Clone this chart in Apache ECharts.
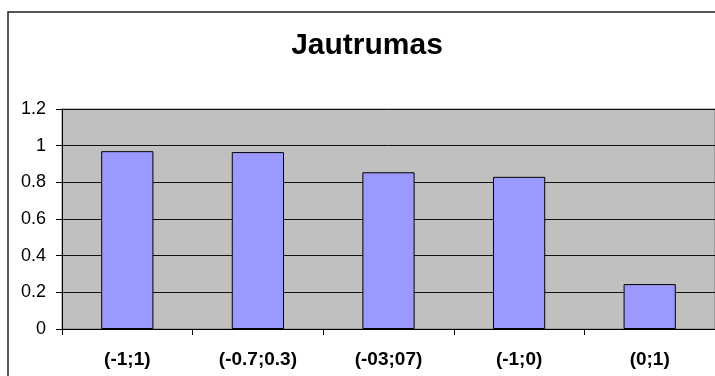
<!DOCTYPE html>
<html>
<head>
<meta charset="utf-8">
<script src="https://cdn.jsdelivr.net/npm/echarts@6/dist/echarts.min.js"></script>
<style>
  html, body { margin: 0; padding: 0; background: #fff; }
  #chart { width: 715px; height: 376px; }
</style>
</head>
<body>
<div id="chart"></div>
<script>
// Sensitivity per interval
const titleText = 'Jautrumas';
const categories = ['(-1;1)', '(-0.7;0.3)', '(-03;07)', '(-1;0)', '(0;1)'];
const values = [0.97, 0.965, 0.855, 0.83, 0.245];
const yTicks = { min: 0, max: 1.2, step: 0.2 };

const font = '"Liberation Sans", Arial, sans-serif';
const chart = echarts.init(document.getElementById('chart'), null, { renderer: 'canvas' });

chart.setOption({
  animation: false,
  backgroundColor: '#ffffff',
  graphic: [{
    type: 'rect',
    shape: { x: 8, y: 12, width: 760, height: 420 },
    style: { fill: 'none', stroke: '#222', lineWidth: 1.5 },
    z: 100
  }],
  title: {
    text: titleText,
    left: 362,
    top: 26,
    textAlign: 'center',
    textStyle: { fontFamily: font, fontSize: 30, fontWeight: 'bold', color: '#000' }
  },
  grid: {
    left: 62, top: 109, width: 658, height: 220,
    show: true,
    backgroundColor: '#C0C0C0',
    borderColor: '#7a7a7a',
    borderWidth: 1
  },
  xAxis: {
    type: 'category',
    data: categories,
    boundaryGap: true,
    axisLine: { show: true, lineStyle: { color: '#000', width: 1 } },
    axisTick: { show: true, length: 6, alignWithLabel: false, lineStyle: { color: '#000' } },
    axisLabel: {
      interval: 0,
      margin: 21,
      fontFamily: font,
      fontSize: 19,
      fontWeight: 'bold',
      color: '#000'
    },
    splitLine: { show: false }
  },
  yAxis: {
    type: 'value',
    min: yTicks.min,
    max: yTicks.max,
    interval: yTicks.step,
    axisLine: { show: true, lineStyle: { color: '#000', width: 1 } },
    axisTick: { show: true, length: 6, lineStyle: { color: '#000' } },
    axisLabel: {
      margin: 16,
      fontFamily: font,
      fontSize: 18,
      color: '#000',
      formatter: v => String(Math.round(v * 10) / 10)
    },
    splitLine: { show: true, lineStyle: { color: '#111', width: 1 } }
  },
  series: [{
    type: 'bar',
    data: values,
    barWidth: '40%',
    itemStyle: { color: '#9999FF', borderColor: '#000', borderWidth: 1 }
  }]
});
</script>
</body>
</html>
